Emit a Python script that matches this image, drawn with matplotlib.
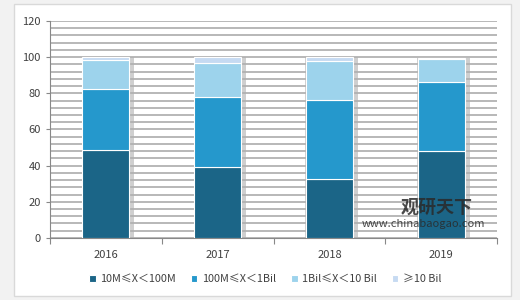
import numpy as np
import matplotlib.pyplot as plt
from matplotlib.patches import Rectangle

plt.rcParams['font.family'] = ['Noto Sans CJK SC', 'DejaVu Sans']

years = ['2016', '2017', '2018', '2019']
s_10m_100m = [48.5, 39.0, 32.6, 48.3]
s_100m_1bil = [33.7, 39.2, 43.7, 37.8]
s_1bil_10bil = [16.2, 18.4, 21.4, 12.7]
s_10bil = [1.6, 3.4, 2.3, 0.9]
labels = ['10M≤X＜100M', '100M≤X＜1Bil', '1Bil≤X＜10 Bil', '≥10 Bil']
colors = ['#1b6587', '#2598cc', '#9dd3ec', '#c6daf2']

fig = plt.figure(figsize=(5.2, 3.0), dpi=100)
fig.patch.set_facecolor('#f2f2f2')
# white card with a light border
fig.add_artist(Rectangle((14 / 520, 4 / 300), 497 / 520, 292 / 300,
                         transform=fig.transFigure, facecolor='white',
                         edgecolor='#d9d9d9', lw=1.0, zorder=0))

ax = fig.add_axes([0.096, 0.207, 0.86, 0.723])
ax.set_facecolor('none')

x = np.arange(len(years))
w = 0.42
series = [s_10m_100m, s_100m_1bil, s_1bil_10bil, s_10bil]
totals = np.sum(series, axis=0)

# soft shadow behind the bars
ax.bar(x + 0.02, totals, width=w + 0.05, color='#b0b0b0', alpha=0.6, zorder=2)

bottom = np.zeros(len(years))
for vals, col, lab in zip(series, colors, labels):
    ax.bar(x, vals, width=w, bottom=bottom, color=col, edgecolor='white',
           linewidth=0.8, label=lab, zorder=3)
    bottom += np.array(vals)

ax.set_xlim(-0.5, 3.5)
ax.set_ylim(0, 120)
ax.set_yticks(range(0, 121, 20))
ax.set_yticks(range(0, 121, 4), minor=True)
ax.yaxis.grid(True, which='both', color='#ababab', lw=1.2)
ax.set_axisbelow(True)

ax.set_xticks(np.arange(-0.5, 4, 1))
ax.set_xticklabels([])
ax.set_xticks(x, minor=True)
ax.set_xticklabels(years, minor=True)
ax.tick_params(axis='x', which='major', length=4, color='#888888')
ax.tick_params(axis='x', which='minor', length=0, labelsize=8, colors='#404040', pad=9)
ax.tick_params(axis='y', which='major', length=3, color='#888888', labelsize=8,
               labelcolor='#404040')
ax.tick_params(axis='y', which='minor', length=0)

for side in ['top', 'right']:
    ax.spines[side].set_visible(False)
ax.spines['left'].set_color('#888888')
ax.spines['bottom'].set_color('#888888')

fig.legend(loc='center', bbox_to_anchor=(0.51, 0.07), ncol=4, frameon=False,
           fontsize=7.8, handlelength=0.6, handleheight=0.6, handletextpad=0.4,
           columnspacing=1.4, labelcolor='#404040')

# watermark
fig.text(0.77, 0.31, '观研天下', fontsize=13, fontweight='bold', color='#2a2a2a',
         alpha=0.85, va='center')
fig.text(0.815, 0.252, 'www.chinabaogao.com', fontsize=8, color='#2a2a2a', alpha=0.85,
         ha='center', va='center')

fig.savefig('out.png', dpi=100, facecolor=fig.get_facecolor())
